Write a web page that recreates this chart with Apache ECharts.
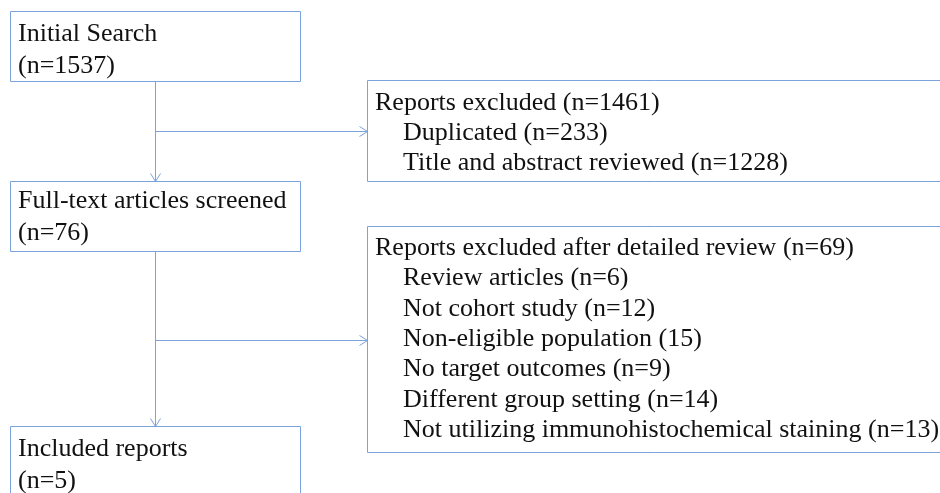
<!DOCTYPE html>
<html>
<head>
<meta charset="utf-8">
<title>Study selection flow</title>
<script src="https://cdn.jsdelivr.net/npm/echarts@6/dist/echarts.min.js"></script>
<style>
  html, body { margin: 0; padding: 0; background: #fff; }
  #chart { width: 940px; height: 493px; }
</style>
</head>
<body>
<div id="chart"></div>
<script>
// ---- flow data ----
const stageNames = ['Initial Search', 'Full-text articles screened', 'Included reports'];
const stageCounts = [1537, 76, 5];

const exclusionTitles = ['Reports excluded', 'Reports excluded after detailed review'];
const exclusionTotals = [1461, 69];

const firstReasons = ['Duplicated', 'Title and abstract reviewed'];
const firstCounts = [233, 1228];

const secondReasons = [
  'Review articles', 'Not cohort study', 'Non-eligible population',
  'No target outcomes', 'Different group setting', 'Not utilizing immunohistochemical staining'
];
const secondCounts = [6, 12, 15, 9, 14, 13];
// the source figure writes one of these counts without "n="
const secondShowN = [true, true, false, true, true, true];

// ---- layout (axes map 1:1 onto the 940x493 canvas) ----
const W = 940, H = 493;
const lineColor = '#7aa3dd';
const textColor = '#111';
const fontFamily = '"Liberation Serif", "Times New Roman", serif';
const fontSize = 26;
const descent = 6; // text is bottom-aligned, so push it down to sit on the baseline

const leftX = [10.5, 300.5];
const leftTops = [11.5, 181.5, 426.5];
const leftH = 70;
const leftBaselines = [[41, 73], [208, 240], [456, 488]];
const leftTextX = 18;

const rightX = [367.5, 950];
const rightBoxes = [[80.5, 181.5], [226.5, 452.5]];
const rightTitleX = 375, rightItemX = 403;
const rightFirstBaseline = [110, 255];
const rightLineGap = [30, 30.4];

const trunkX = 155.5;
const branchY = [131.5, 340.5];

// boxes: [x0, y0, x1, y1]
const boxData = [];
leftTops.forEach(t => boxData.push([leftX[0], t, leftX[1], t + leftH]));
rightBoxes.forEach(b => boxData.push([rightX[0], b[0], rightX[1], b[1]]));

// text lines
const textItems = [];
stageNames.forEach((name, i) => {
  textItems.push({x: leftTextX, y: leftBaselines[i][0], text: name});
  textItems.push({x: leftTextX, y: leftBaselines[i][1], text: '(n=' + stageCounts[i] + ')'});
});
const reasonSets = [
  firstReasons.map((r, i) => r + ' (n=' + firstCounts[i] + ')'),
  secondReasons.map((r, i) => r + ' (' + (secondShowN[i] ? 'n=' : '') + secondCounts[i] + ')')
];
exclusionTitles.forEach((title, k) => {
  const y0 = rightFirstBaseline[k];
  textItems.push({x: rightTitleX, y: y0, text: title + ' (n=' + exclusionTotals[k] + ')'});
  reasonSets[k].forEach((r, j) => {
    textItems.push({x: rightItemX, y: y0 + rightLineGap[k] * (j + 1), text: r});
  });
});

// connectors: [x0, y0, x1, y1], arrow at the end
const arrowData = [];
for (let k = 0; k < 2; k++) {
  arrowData.push([trunkX, leftTops[k] + leftH, trunkX, leftTops[k + 1]]);
  arrowData.push([trunkX, branchY[k], rightX[0], branchY[k]]);
}

const chart = echarts.init(document.getElementById('chart'), null, {renderer: 'canvas'});

chart.setOption({
  backgroundColor: '#fff',
  animation: false,
  grid: {left: 0, right: 0, top: 0, bottom: 0},
  xAxis: {type: 'value', min: 0, max: W, show: false},
  yAxis: {type: 'value', min: 0, max: H, inverse: true, show: false},
  series: [
    {
      type: 'custom',
      name: 'boxes',
      silent: true,
      data: boxData,
      renderItem: (params, api) => {
        const p0 = api.coord([api.value(0), api.value(1)]);
        const p1 = api.coord([api.value(2), api.value(3)]);
        return {
          type: 'rect',
          shape: {x: p0[0], y: p0[1], width: p1[0] - p0[0], height: p1[1] - p0[1]},
          style: {fill: '#fff', stroke: lineColor, lineWidth: 1}
        };
      }
    },
    {
      type: 'custom',
      name: 'arrows',
      silent: true,
      data: arrowData,
      renderItem: (params, api) => {
        const a = api.coord([api.value(0), api.value(1)]);
        const b = api.coord([api.value(2), api.value(3)]);
        const len = Math.hypot(b[0] - a[0], b[1] - a[1]);
        const dx = (b[0] - a[0]) / len, dy = (b[1] - a[1]) / len;
        const L = 8, w = 5;
        return {
          type: 'group',
          children: [
            {type: 'polyline', shape: {points: [a, b]}, style: {stroke: lineColor, lineWidth: 1, fill: null}},
            {
              type: 'polyline',
              shape: {points: [
                [b[0] - dx * L - dy * w, b[1] - dy * L + dx * w],
                b,
                [b[0] - dx * L + dy * w, b[1] - dy * L - dx * w]
              ]},
              style: {stroke: lineColor, lineWidth: 1, fill: null}
            }
          ]
        };
      }
    },
    {
      type: 'custom',
      name: 'labels',
      silent: true,
      z: 5,
      data: textItems.map(t => [t.x, t.y + descent]),
      renderItem: (params, api) => {
        const p = api.coord([api.value(0), api.value(1)]);
        return {
          type: 'text',
          x: p[0],
          y: p[1],
          style: {
            text: textItems[params.dataIndex].text,
            fill: textColor,
            font: fontSize + 'px ' + fontFamily,
            textAlign: 'left',
            textVerticalAlign: 'bottom'
          }
        };
      }
    }
  ]
});
</script>
</body>
</html>
